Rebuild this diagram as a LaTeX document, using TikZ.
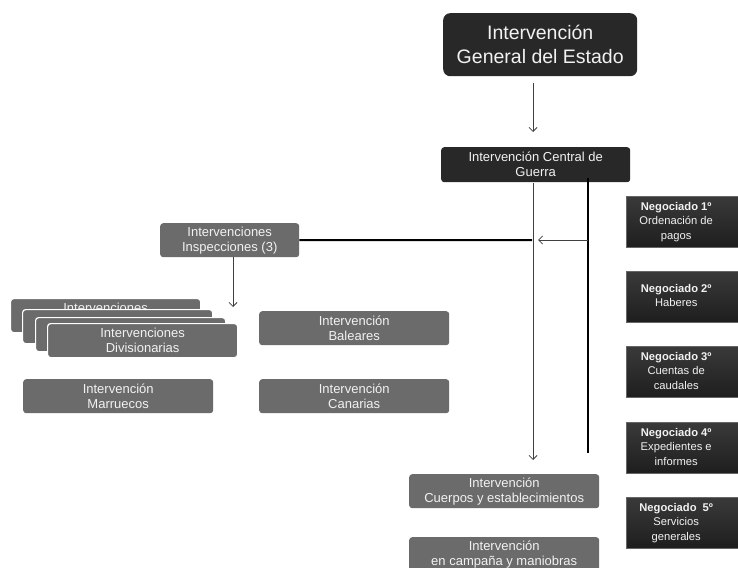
\documentclass[tikz,border=0pt]{standalone}
\usepackage{fontspec}
\setmainfont{Liberation Sans}
\usetikzlibrary{arrows.meta}
\definecolor{dk}{HTML}{282828}
\definecolor{dktop}{HTML}{3A3A3A}
\definecolor{dkbot}{HTML}{1E1E1E}
\definecolor{gr}{HTML}{6B6B6B}
\definecolor{txt}{HTML}{F2F2F2}
\begin{document}
\begin{tikzpicture}[x=1pt,y=-1pt,
  box/.style={rectangle, inner sep=0pt, anchor=north west, text=txt, align=center},
  darkbox/.style={box, fill=dk, rounded corners=7pt},
  grbox/.style={box, fill=gr, rounded corners=3pt, minimum width=190pt, minimum height=34pt, font=\fontsize{13}{15}\selectfont},
  stackbox/.style={grbox, draw=white, line width=1.2pt},
  negbox/.style={box, top color=dktop, bottom color=dkbot, draw=black!60, line width=0.4pt, minimum width=124pt, minimum height=51pt, font=\fontsize{11.2}{14.5}\selectfont},
  garrow/.style={draw=black!75, line width=0.8pt, -{Straight Barb[length=4pt,width=8pt]}},
  bline/.style={draw=black, line width=2pt}
]
\useasboundingbox (0,0) rectangle (738,567);
\clip (0,0) rectangle (738,567);
\fill[white] (0,0) rectangle (738,567);

% main boxes
\node[darkbox, minimum width=194pt, minimum height=63pt, font=\fontsize{19.5}{24}\selectfont] (ige) at (443,13) {Intervención\\General del Estado};
\node[darkbox, rounded corners=3pt, minimum width=189pt, minimum height=35pt, font=\fontsize{13}{15}\selectfont] (icg) at (441,147) {Intervención Central de\\Guerra};
\node[grbox, minimum width=139pt] (insp) at (160,223) {Intervenciones\\Inspecciones (3)};

% stacked divisionarias
\node[stackbox] (s1) at (10,298) {Intervenciones\\\phantom{Divisionarias}};
\node[stackbox] (s2) at (22,309) {};
\node[stackbox] (s3) at (35,317) {};
\node[stackbox] (s4) at (47,323) {Intervenciones\\Divisionarias};

\node[grbox] (marr) at (23,379) {Intervención\\Marruecos};
\node[grbox] (bal) at (259,311) {Intervención\\Baleares};
\node[grbox] (can) at (259,379) {Intervención\\Canarias};
\node[grbox] (cue) at (409,474) {Intervención\\Cuerpos y establecimientos};
\node[grbox] (cam) at (409,537) {Intervención\\en campaña y maniobras};

% negociados
\node[negbox] (n1) at (626,196) {\begin{tabular}{@{}c@{}}\textbf{Negociado 1º}\\Ordenación de\\pagos\end{tabular}\hspace*{24pt}};
\node[negbox] (n2) at (626,271) {\begin{tabular}{@{}c@{}}\textbf{Negociado 2º}\\Haberes\end{tabular}\hspace*{24pt}};
\node[negbox] (n3) at (626,346) {\begin{tabular}{@{}c@{}}\textbf{Negociado 3º}\\Cuentas de\\caudales\end{tabular}\hspace*{24pt}};
\node[negbox] (n4) at (626,422) {\begin{tabular}{@{}c@{}}\textbf{Negociado 4º}\\Expedientes e\\informes\end{tabular}\hspace*{24pt}};
\node[negbox] (n5) at (626,497) {\begin{tabular}{@{}c@{}}\textbf{Negociado\hspace{3pt} 5º}\\Servicios\\generales\end{tabular}\hspace*{24pt}};

% connector points
\coordinate (a1) at (533,83);
\coordinate (a2) at (533,132);
\coordinate (v1) at (533,183);
\coordinate (v2) at (533,460);
\coordinate (b1) at (588,178);
\coordinate (b2) at (588,453);
\coordinate (h1) at (588,240);
\coordinate (h2) at (538,240);
\coordinate (h3) at (532,240);
\coordinate (d1) at (233,257);
\coordinate (d2) at (233,307);

% connectors
\draw[garrow] (a1) -- (a2);
\draw[garrow] (v1) -- (v2);
\draw[bline] (b1) -- (b2);
\draw[garrow] (h1) -- (h2);
\draw[bline] (insp.east) -- (h3);
\draw[garrow] (d1) -- (d2);
\end{tikzpicture}
\end{document}
